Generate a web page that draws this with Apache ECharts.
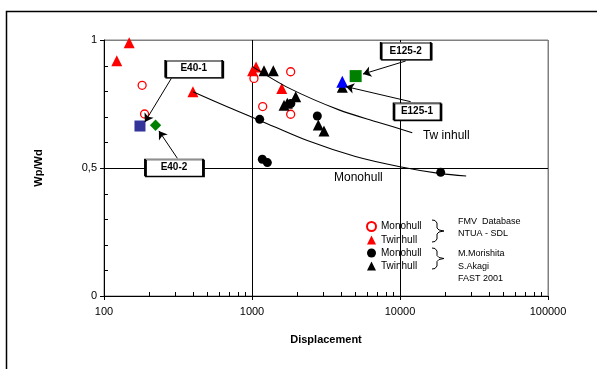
<!DOCTYPE html>
<html>
<head>
<meta charset="utf-8">
<script src="https://cdn.jsdelivr.net/npm/echarts@6/dist/echarts.min.js"></script>
<style>
html, body { margin: 0; padding: 0; background: #fff; }
#chart { width: 597px; height: 369px; }
</style>
</head>
<body>
<div id="chart"></div>
<script>
// data: [displacement, Wp/Wd]
var fmvMonohull = [[181, 0.823], [188, 0.711], [1031, 0.850], [1825, 0.876], [1181, 0.740], [1825, 0.710]]
var fmvTwinhull = [[122, 0.919], [148, 0.989], [399, 0.798], [1010, 0.880], [1065, 0.895], [1588, 0.811]]
var msMonohull = [[1127, 0.690], [1174, 0.534], [1270, 0.521], [2762, 0.703], [1830, 0.752], [18830, 0.483]]
var msTwinhull = [[1205, 0.880], [1393, 0.880], [1973, 0.778], [1733, 0.753], [1646, 0.745], [2806, 0.668], [3064, 0.645], [4076, 0.815]]
var e40_1 = [[175, 0.664]]
var e40_2 = [[223, 0.667]]
var e125_1 = [[4076, 0.837]]
var e125_2 = [[5017, 0.859]]

// trend curves, points
var twinCurve = [[1000, 0.897], [1780, 0.812], [3870, 0.727], [7000, 0.680], [12100, 0.638]]
var monoCurve = [[399, 0.798], [699, 0.736], [1127, 0.686], [2364, 0.607], [5000, 0.545], [10000, 0.505], [18800, 0.478], [28000, 0.469]]

var xMinorTicks = [200, 300, 400, 500, 600, 700, 800, 900,
    2000, 3000, 4000, 5000, 6000, 7000, 8000, 9000,
    20000, 30000, 40000, 50000, 60000, 70000, 80000, 90000]
var yMinorTicks = [0.1, 0.2, 0.3, 0.4, 0.6, 0.7, 0.8, 0.9]

// callouts: [text, box centre, arrow from, arrow to, box width]
var callouts = [
    ["E40-1", [404, 0.888], [285, 0.850], [189, 0.680], 57],
    ["E40-2", [297, 0.502], [313, 0.538], [235, 0.645], 58],
    ["E125-2", [10925, 0.958], [10925, 0.918], [5623, 0.867], 50],
    ["E125-1", [13030, 0.721], [11810, 0.759], [4315, 0.818], 47]
]

var font = "Liberation Sans"

var chartDom = document.getElementById("chart")
var myChart = echarts.init(chartDom)

function minorTickX(params, api) {
    var p = api.coord([api.value(0), 0])
    var x = Math.round(p[0]) + 0.5
    return { type: "line", shape: { x1: x, y1: p[1], x2: x, y2: p[1] - 4 }, style: { stroke: "#000", lineWidth: 1 } }
}
function minorTickY(params, api) {
    var p = api.coord([100, api.value(1)])
    var y = Math.round(p[1]) + 0.5
    return { type: "line", shape: { x1: p[0], y1: y, x2: p[0] + 4, y2: y }, style: { stroke: "#000", lineWidth: 1 } }
}

// curly bracket as a polyline
function brace(x, y0, y1) {
    var m = (y0 + y1) / 2
    var v = x + 5
    return {
        type: "polyline",
        shape: {
            points: [[x, y0], [x + 3, y0 + 0.5], [v, y0 + 3], [v, m - 3], [v + 2, m - 1], [x + 12, m],
                [v + 2, m + 1], [v, m + 3], [v, y1 - 3], [x + 3, y1 - 0.5], [x, y1]]
        },
        style: { fill: null, stroke: "#000", lineWidth: 1 },
        silent: true
    }
}

var boxes = callouts.map(function (c) {
    return {
        coord: c[1],
        symbol: "rect",
        symbolSize: [c[4], 17],
        itemStyle: { color: "#fff", borderColor: "#000", borderWidth: 1, shadowColor: "#000", shadowOffsetX: 1, shadowOffsetY: 1 },
        label: { show: true, position: "inside", formatter: c[0], color: "#000", fontWeight: "bold", fontSize: 10, fontFamily: font }
    }
})
var arrows = callouts.map(function (c) {
    return [{ coord: c[2] }, { coord: c[3] }]
})

var option = {
    animation: false,
    textStyle: { fontFamily: font },
    grid: {
        left: 104, right: 49, top: 40, bottom: 73,
        show: true, borderColor: "#808080", borderWidth: 1, backgroundColor: "transparent"
    },
    legend: {
        orient: "vertical",
        left: 366,
        top: 221,
        padding: 0,
        itemWidth: 9,
        itemHeight: 9,
        itemGap: 3,
        data: ["FMV Monohull", "FMV Twinhull", "MS Monohull", "MS Twinhull"],
        formatter: function (name) { return name.replace(/^\S+ /, "") },
        textStyle: { fontSize: 10, color: "#000", fontFamily: font }
    },
    xAxis: {
        type: "log",
        logBase: 10,
        min: 100,
        max: 100000,
        name: "Displacement",
        nameLocation: "middle",
        nameGap: 38,
        nameTextStyle: { fontWeight: "bold", fontSize: 11, color: "#000" },
        axisLine: { lineStyle: { color: "#000", width: 1 } },
        axisTick: { show: true, length: 4, lineStyle: { color: "#000" } },
        axisLabel: { fontSize: 11, color: "#000", margin: 10, formatter: function (v) { return String(Math.round(v)) } },
        splitLine: { show: true, lineStyle: { color: ["#000", "#000", "#000", "#808080"], width: 1 } }
    },
    yAxis: {
        type: "value",
        min: 0,
        max: 1,
        interval: 0.5,
        name: "Wp/Wd",
        nameLocation: "middle",
        nameGap: 60,
        nameTextStyle: { fontWeight: "bold", fontSize: 11, color: "#000" },
        axisLine: { show: true, lineStyle: { color: "#000", width: 1 } },
        axisTick: { show: true, length: 4, lineStyle: { color: "#000" } },
        axisLabel: {
            fontSize: 11, color: "#000", margin: 7,
            formatter: function (v) { return String(v).replace(".", ",") }
        },
        splitLine: { show: true, lineStyle: { color: ["#000", "#000", "#808080"], width: 1 } }
    },
    graphic: [
        { type: "rect", shape: { x: 6.5, y: 11.5, width: 700, height: 500 }, style: { fill: null, stroke: "#000", lineWidth: 1.5 }, silent: true },
        brace(432, 220, 242),
        brace(432, 248, 269),
        { type: "text", style: { x: 458, y: 222, text: "FMV  Database", fontSize: 9, fontFamily: font, fill: "#000", verticalAlign: "middle" } },
        { type: "text", style: { x: 458, y: 234, text: "NTUA - SDL", fontSize: 9, fontFamily: font, fill: "#000", verticalAlign: "middle" } },
        { type: "text", style: { x: 458, y: 254, text: "M.Morishita", fontSize: 9, fontFamily: font, fill: "#000", verticalAlign: "middle" } },
        { type: "text", style: { x: 458, y: 267, text: "S.Akagi", fontSize: 9, fontFamily: font, fill: "#000", verticalAlign: "middle" } },
        { type: "text", style: { x: 458, y: 279, text: "FAST 2001", fontSize: 9, fontFamily: font, fill: "#000", verticalAlign: "middle" } }
    ],
    series: [
        { type: "custom", renderItem: minorTickX, data: xMinorTicks.map(function (v) { return [v, 0] }), silent: true, z: 5 },
        { type: "custom", renderItem: minorTickY, data: yMinorTicks.map(function (v) { return [100, v] }), silent: true, z: 5 },
        {
            name: "twin curve", type: "line", data: twinCurve, smooth: 0.3, showSymbol: false,
            lineStyle: { color: "#000", width: 1.1 }, silent: true,
            markPoint: {
                silent: true,
                data: [{ coord: [14290, 0.626], symbol: "circle", symbolSize: 0,
                    label: { show: true, position: "right", distance: 0, formatter: "Tw inhull", color: "#000", fontSize: 12, fontFamily: font } }]
            }
        },
        {
            name: "mono curve", type: "line", data: monoCurve, smooth: 0.3, showSymbol: false,
            lineStyle: { color: "#000", width: 1.1 }, silent: true,
            markPoint: {
                silent: true,
                data: [{ coord: [3583, 0.464], symbol: "circle", symbolSize: 0,
                    label: { show: true, position: "right", distance: 0, formatter: "Monohull", color: "#000", fontSize: 12, fontFamily: font } }]
            }
        },
        {
            name: "FMV Monohull", type: "scatter", data: fmvMonohull, symbol: "circle", symbolSize: 8,
            itemStyle: { color: "#fff", borderColor: "#ff0000", borderWidth: 1.3, opacity: 1 }
        },
        {
            name: "FMV Twinhull", type: "scatter", data: fmvTwinhull, symbol: "triangle", symbolSize: 11,
            itemStyle: { color: "#ff0000", opacity: 1 }
        },
        {
            name: "MS Monohull", type: "scatter", data: msMonohull, symbol: "circle", symbolSize: 9,
            itemStyle: { color: "#000", opacity: 1 }
        },
        {
            name: "MS Twinhull", type: "scatter", data: msTwinhull, symbol: "triangle", symbolSize: 11,
            itemStyle: { color: "#000", opacity: 1 }
        },
        { name: "E40-1", type: "scatter", data: e40_1, symbol: "rect", symbolSize: 11, itemStyle: { color: "#333399", opacity: 1 } },
        { name: "E40-2", type: "scatter", data: e40_2, symbol: "rect", symbolRotate: 45, symbolSize: 8, itemStyle: { color: "#008000", opacity: 1 } },
        { name: "E125-1", type: "scatter", data: e125_1, symbol: "triangle", symbolSize: 12, itemStyle: { color: "#0000ff", opacity: 1 } },
        { name: "E125-2", type: "scatter", data: e125_2, symbol: "rect", symbolSize: 12, itemStyle: { color: "#008000", opacity: 1 } },
        {
            name: "callouts", type: "scatter", data: [], z: 10,
            markLine: {
                silent: true,
                symbol: ["none", "arrow"],
                symbolSize: 8,
                label: { show: false },
                lineStyle: { color: "#000", width: 1, type: "solid" },
                data: arrows
            },
            markPoint: { silent: true, data: boxes }
        }
    ]
}

myChart.setOption(option)
</script>
</body>
</html>
